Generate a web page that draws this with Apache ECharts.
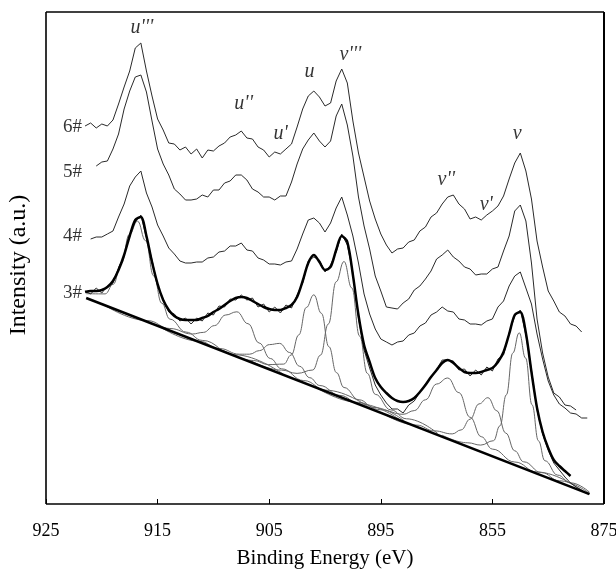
<!DOCTYPE html>
<html><head><meta charset="utf-8">
<script src="https://cdn.jsdelivr.net/npm/echarts@6/dist/echarts.min.js"></script>
<style>html,body{margin:0;padding:0;background:#fff;overflow:hidden}#c{width:616px;height:570px}</style>
</head><body><div id="c"></div>
<script>
// Binding energy grid (eV) shared by the measured spectra
const energy = [921.5,921,920.5,920,919.5,919,918.5,918,917.5,917,
916.5,916,915.5,915,914.5,914,913.5,913,912.5,912,
911.5,911,910.5,910,909.5,909,908.5,908,907.5,907,
906.5,906,905.5,905,904.5,904,903.5,903,902.5,902,
901.5,901,900.5,900,899.5,899,898.5,898,897.5,897,
896.5,896,895.5,895,894.5,894,893.5,893,892.5,892,
891.5,891,890.5,890,889.5,889,888.5,888,887.5,887,
886.5,886,885.5,885,884.5,884,883.5,883,882.5,882,
881.5,881,880.5,880,879.5,879,878.5,878,877.5,877,
876.5];

// Tick labels as printed on the original (the 5th one reads "855")
const tickValues = [925,915,905,895,885,875];
const tickLabels = ['925','915','905','895','855','875'];

// Measured spectra (a.u.)
const s6 = [378,381,376,380,378,384,400,417,433,456,
461,433,408,385,374,361,360,354,357,350,
355,346,354,353,358,361,367,369,373,366,
365,357,354,347,352,350,355,360,377,395,
408,413,407,398,401,423,435,421,383,351,
327,303,285,270,259,251,255,256,262,264,
273,277,287,291,300,307,309,300,295,285,
287,284,289,293,298,308,325,341,351,333,
305,263,237,213,203,192,188,180,178,172,
null];
const s5 = [null,null,
338,342,343,355,370,395,413,427,429,412,
383,355,340,329,315,310,304,304,305,309,
307,314,314,321,323,329,329,324,315,312,
307,307,304,308,308,322,340,355,364,371,
363,357,363,388,400,379,348,307,278,255,
228,213,197,196,195,201,205,214,218,225,
233,245,249,254,247,243,237,235,229,230,
230,235,237,253,268,293,299,283,241,185,
151,127,111,107,99,98,94,
null,null];
const s4 = [null,
265,267,267,270,273,287,300,318,327,333,
311,297,279,268,256,250,243,241,241,242,
242,246,247,252,253,258,258,261,254,253,
246,244,240,240,239,242,243,255,270,284,
286,281,272,281,296,307,289,268,241,210,
190,175,165,162,159,162,163,169,171,178,
181,189,192,197,193,192,185,184,180,180,
179,183,185,197,203,218,228,232,216,200,
170,145,123,109,100,96,91,90,86,86];
const s3 = [213,210,216,211,218,221,236,248,270,282,
289,266,244,218,205,192,190,183,186,180,
186,183,191,189,198,197,205,204,209,204,
206,197,200,192,197,191,199,196,209,221,
243,247,244,232,239,252,270,259,231,186,
154,136,119,109,101,95,95,91,99,103,
112,120,127,134,144,144,143,134,135,128,
134,129,137,133,145,149,171,188,194,169,
134,94,70,54,41,34,27,21,17,14,
10];
const s3fit = [212,213,213,214,217,223,234,249,268,284,
287,268,242,220,204,194,188,185,184,184,
184,186,188,192,195,199,203,206,207,206,
203,200,197,195,194,194,196,199,207,223,
241,249,242,234,237,254,268,262,229,189,
159,142,126,117,111,106,103,102,103,106,
112,119,127,134,141,144,141,136,132,131,
131,132,134,136,142,152,170,189,192,171,
132,96,72,56,44,38,33,28,null,null,null];

// Background of sample 3#
const background = [[921.4,206],[876.3,9.8]];

// Fitted components of sample 3# ([eV, a.u.])
const compU3 = [[921.4,210.3],[919.7,210.1],[918.975,219.7],[918.25,240.7],[917.525,269.6],[916.8,282.9],[916.075,263.3],[915.35,228.1],[914.625,200.8],[913.9,184.9],[912.45,171.9],[911.0,163.6],[908.1,149.3],[903.75,129.8]];
const compU2 = [[919.9,199.9],[915.9,183.4],[913.9,175.5],[911.9,170.0],[910.9,171.6],[909.9,178.4],[908.9,189.0],[907.9,192.2],[906.9,180.3],[905.9,161.0],[904.9,145.5],[903.9,135.2],[901.9,123.4],[899.9,113.8],[895.9,95.5]];
const compU1 = [[914.87,177.9],[911.27,162.8],[909.47,155.5],[907.67,149.8],[906.77,149.8],[905.87,153.4],[904.97,159.4],[904.07,160.6],[903.17,151.5],[902.27,137.7],[901.37,126.3],[900.47,118.5],[898.67,108.6],[896.87,100.1],[893.27,84.0]];
const compU = [[909.1,153.5],[906.4,143.5],[905.05,139.4],[903.7,139.9],[903.025,149.0],[902.35,169.1],[901.675,196.5],[901.0,209.2],[900.325,190.7],[899.65,157.3],[898.975,131.4],[898.3,116.5],[896.95,104.2],[895.6,96.5],[892.9,83.1]];
const compV3 = [[906.7,143.6],[903.9,133.9],[902.5,130.6],[901.1,134.0],[900.4,148.9],[899.7,180.0],[899.0,222.2],[898.3,242.5],[897.6,216.1],[896.9,167.9],[896.2,130.6],[895.5,109.7],[894.1,94.1],[892.7,85.2],[889.9,70.5]];
const compV2 = [[901.0,117.9],[897.0,101.6],[895.0,94.2],[893.0,89.7],[892.0,93.4],[891.0,104.2],[890.0,120.0],[889.0,126.0],[888.0,111.3],[887.0,86.8],[886.0,67.3],[885.0,54.9],[883.0,42.0],[881.0,32.0],[877.0,13.5]];
const compV1 = [[895.0,91.8],[891.8,78.9],[890.2,73.1],[888.6,70.1],[887.8,74.1],[887.0,84.8],[886.2,100.1],[885.4,106.3],[884.6,93.2],[883.8,70.9],[883.0,53.2],[882.2,42.2],[880.6,31.4],[879.0,23.2],[876.3,10.6]];
const compV = [[889.5,68.8],[887.2,61.2],[886.05,58.9],[884.9,63.3],[884.325,78.2],[883.75,109.2],[883.175,150.9],[882.6,171.2],[882.025,145.9],[881.45,99.2],[880.875,63.2],[880.3,43.3],[879.15,28.9],[878.0,21.2],[876.3,11.8]];

// Annotations ([eV, a.u., text])
const peakLabels = [[916.41,476,"u'''"],[907.29,400,"u''"],[903.98,370,"u'"],[901.39,432,"u"],[897.72,449,"v'''"],[889.13,324,"v''"],[885.55,299,"v'"],[882.78,370,"v"]];
const sampleLabels = [[921.78,377,'6#'],[921.78,332,'5#'],[921.78,268,'4#'],[921.78,211,'3#']];

const FONT = 'Liberation Serif, Times New Roman, serif';
const zip = a => energy.map((e,i)=>[e, a[i]]);

function raw(name, arr){
  return {name, type:'line', data: zip(arr), showSymbol:false, symbol:'none', connectNulls:false,
    lineStyle:{color:'#2a2a2a', width:1}, z:3, silent:true};
}
function comp(name, arr){
  return {name, type:'line', data: arr, symbol:'none', smooth:0.45, smoothMonotone:'x',
    lineStyle:{color:'#666', width:1}, z:2, silent:true};
}

const chart = echarts.init(document.getElementById('c'), null, {renderer:'canvas', width:616, height:570});
chart.setOption({
  animation:false,
  backgroundColor:'#fff',
  grid:{left:46, right:12, top:12, bottom:66, containLabel:false, outerBoundsMode:'none', show:false},
  xAxis:{type:'value', min:875, max:925, interval:10, inverse:true,
    name:'Binding Energy (eV)', nameLocation:'middle', nameGap:44, nameMoveOverlap:false,
    nameTextStyle:{fontFamily:FONT, fontSize:21, color:'#000'},
    axisLine:{show:false},
    axisTick:{show:true, inside:true, length:5, lineStyle:{color:'#000', width:1}},
    axisLabel:{margin:18, fontFamily:FONT, fontSize:18, color:'#000', hideOverlap:false,
      formatter: v => { const k = tickValues.indexOf(Math.round(v)); return k>=0 ? tickLabels[k] : ''; }},
    splitLine:{show:false}},
  yAxis:{type:'value', min:0, max:492,
    name:'Intensity (a.u.)', nameLocation:'middle', nameGap:15, nameMoveOverlap:false,
    nameTextStyle:{fontFamily:FONT, fontSize:24, color:'#000', padding:[0,14,0,0]},
    axisLine:{show:false}, axisTick:{show:false}, axisLabel:{show:false}, splitLine:{show:false}},
  series:[
    {name:'background', type:'line', data:background, symbol:'none', lineStyle:{color:'#000', width:2.5}, z:4, silent:true},
    comp("u'''", compU3), comp("u''", compU2), comp("u'", compU1), comp('u', compU),
    comp("v'''", compV3), comp("v''", compV2), comp("v'", compV1), comp('v', compV),
    raw('6#', s6), raw('5#', s5), raw('4#', s4), raw('3#', s3),
    {name:'3# fit', type:'line', data: zip(s3fit), symbol:'none', smooth:0.3, connectNulls:false,
      lineStyle:{color:'#000', width:2.5}, z:5, silent:true},
    {name:'peaks', type:'scatter', data: peakLabels, symbolSize:0, silent:true, z:6,
      label:{show:true, position:'inside', formatter: p => p.data[2],
        fontFamily:FONT, fontStyle:'italic', fontSize:20, color:'#000'}},
    {name:'samples', type:'scatter', data: sampleLabels, symbolSize:0, silent:true, z:6,
      label:{show:true, position:'left', distance:0, formatter: p => p.data[2],
        fontFamily:FONT, fontSize:19, color:'#000'}}
  ]
});

// Plot frame drawn from the axes' own extent (four separate edges)
const pTL = chart.convertToPixel({gridIndex:0}, [925, 492]);
const pBR = chart.convertToPixel({gridIndex:0}, [875, 0]);
const edge = (x1,y1,x2,y2,w) => ({type:'line', silent:true, z:100,
  shape:{x1, y1, x2, y2}, style:{stroke:'#000', lineWidth:w}});
chart.setOption({graphic:[
  edge(pTL[0], pTL[1], pBR[0], pTL[1], 1.6),
  edge(pTL[0], pBR[1], pBR[0], pBR[1], 1.6),
  edge(pTL[0], pTL[1], pTL[0], pBR[1], 1.6),
  edge(pBR[0], pTL[1], pBR[0], pBR[1], 2)
]});
</script></body></html>
